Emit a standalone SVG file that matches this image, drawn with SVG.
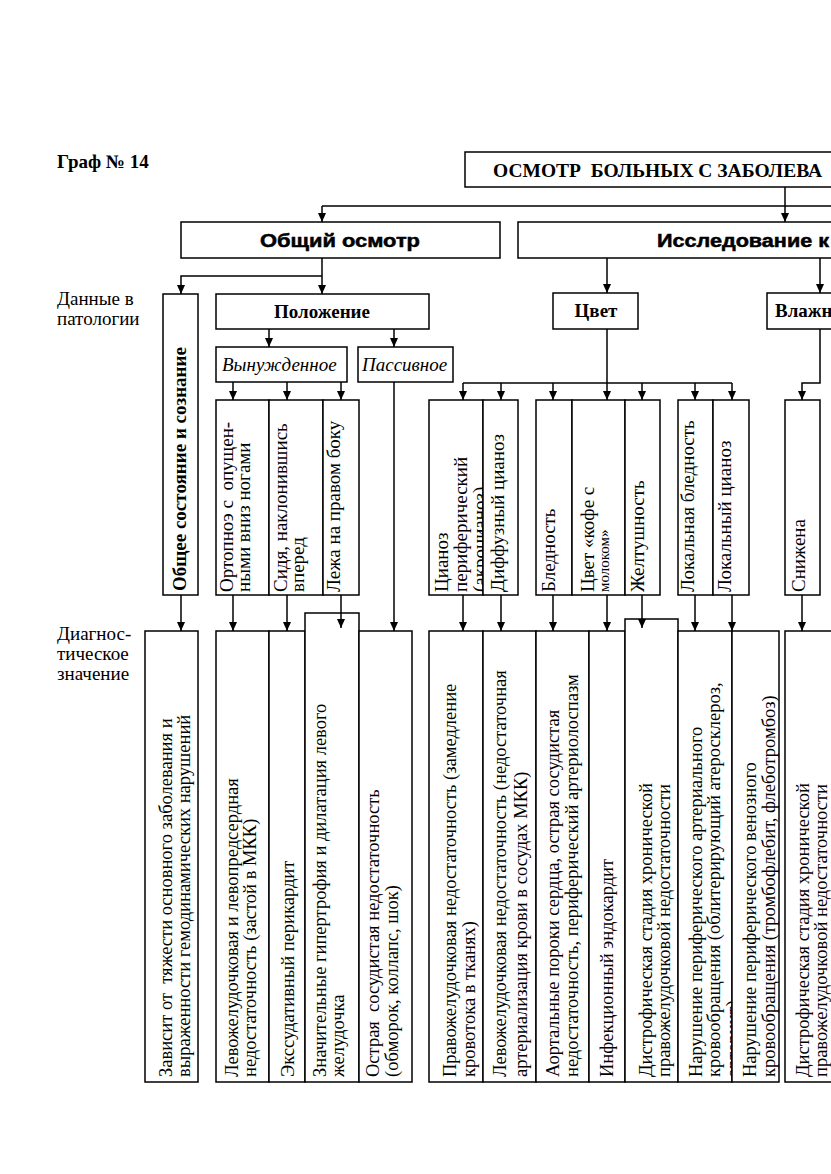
<svg xmlns="http://www.w3.org/2000/svg" width="831" height="1174" viewBox="0 0 831 1174" font-family="'Liberation Serif', 'Times New Roman', 'DejaVu Serif', serif">
<defs>
<marker id="ah" markerWidth="9" markerHeight="8" refX="9" refY="4" orient="auto" markerUnits="userSpaceOnUse"><path d="M0,0 L9,4 L0,8 z" fill="#000"/></marker>
</defs>
<style>
.b{fill:#fff;stroke:#000;stroke-width:1.5}
.c{fill:none;stroke:#000;stroke-width:1.5}
.a{fill:none;stroke:#000;stroke-width:1.5;marker-end:url(#ah)}
text{font-family:'Liberation Serif','Times New Roman','DejaVu Serif',serif;font-size:19px;fill:#000}
.r{font-size:18.5px}
.bd{font-weight:bold}
.it{font-style:italic}
.sans{font-family:'Liberation Sans',Arial,sans-serif;font-weight:bold;font-size:18px;stroke:#000;stroke-width:0.5}
</style>
<rect width="831" height="1174" fill="#fff"/>

<g id="labels">
<text class="bd" x="57" y="168">Граф № 14</text>
<text x="57" y="305">Данные в</text>
<text x="57" y="325">патологии</text>
<text x="57" y="640">Диагнос-</text>
<text x="57" y="660">тическое</text>
<text x="57" y="680">значение</text>
</g>

<g id="title">
<path class="b" d="M831,152 H465 V187 H831"/>
<text class="bd" x="493" y="177" xml:space="preserve" textLength="329" lengthAdjust="spacingAndGlyphs">ОСМОТР  БОЛЬНЫХ С ЗАБОЛЕВА</text>
</g>
<g id="obshchiy">
<rect class="b" x="181" y="222" width="319" height="36"/>
<text class="sans" x="340" y="247" text-anchor="middle" textLength="160" lengthAdjust="spacingAndGlyphs">Общий осмотр</text>
</g>
<g id="issled">
<path class="b" d="M831,222 H518 V258 H831"/>
<text class="sans" x="657" y="247" textLength="172" lengthAdjust="spacingAndGlyphs">Исследование к</text>
</g>

<g id="obshchee-sost">
<rect class="b" x="163" y="294" width="35" height="301"/>
<text class="bd" transform="translate(186,591) rotate(-90)">Общее состояние и сознание</text>
</g>
<g id="polozhenie">
<rect class="b" x="216" y="294" width="213" height="35"/>
<text class="bd" x="322" y="318" text-anchor="middle">Положение</text>
</g>
<g id="vynuzhd">
<rect class="b" x="216" y="347" width="131" height="35"/>
<text class="it" x="222" y="371">Вынужденное</text>
</g>
<g id="passiv">
<rect class="b" x="358" y="347" width="95" height="35"/>
<text class="it" x="362" y="371">Пассивное</text>
</g>
<g id="ortopnoe">
<rect class="b" x="216" y="400" width="53" height="195"/>
<text transform="translate(233,592) rotate(-90)" xml:space="preserve"><tspan x="0" y="0">Ортопноэ с  опущен-</tspan><tspan x="0" y="17">ными вниз ногами</tspan></text>
</g>
<g id="sidya">
<rect class="b" x="269" y="400" width="54" height="195"/>
<text transform="translate(287,592) rotate(-90)"><tspan x="0" y="0">Сидя, наклонившись</tspan><tspan x="0" y="17">вперед</tspan></text>
</g>
<g id="lezha">
<rect class="b" x="323" y="400" width="36" height="195"/>
<text transform="translate(340,592) rotate(-90)">Лежа на правом боку</text>
</g>

<g id="tsvet">
<rect class="b" x="553" y="293" width="85" height="36"/>
<text class="bd" x="596" y="317" text-anchor="middle">Цвет</text>
</g>
<g id="vlazhn">
<path class="b" d="M831,293 H767 V329 H831"/>
<text class="bd" x="775" y="317">Влажн</text>
</g>

<g id="tsianoz-per">
<rect class="b" x="429" y="400" width="54" height="195"/>
<text transform="translate(448,592) rotate(-90)"><tspan x="0" y="0">Цианоз</tspan><tspan x="0" y="19">периферический</tspan><tspan x="0" y="38">(акроцианоз)</tspan></text>
</g>
<g id="tsianoz-diff">
<rect class="b" x="483" y="400" width="35" height="195"/>
<text transform="translate(504,592) rotate(-90)">Диффузный цианоз</text>
</g>
<g id="blednost">
<rect class="b" x="536" y="400" width="36" height="195"/>
<text transform="translate(555,592) rotate(-90)">Бледность</text>
</g>
<g id="kofe">
<rect class="b" x="572" y="400" width="53" height="195"/>
<text transform="translate(594,592) rotate(-90)"><tspan x="0" y="0">Цвет «кофе с</tspan><tspan x="0" y="15" font-size="15">молоком»</tspan></text>
</g>
<g id="zheltushn">
<rect class="b" x="625" y="400" width="35" height="195"/>
<text transform="translate(644,592) rotate(-90)">Желтушность</text>
</g>
<g id="lok-bled">
<rect class="b" x="678" y="400" width="35" height="195"/>
<text transform="translate(694,592) rotate(-90)">Локальная бледность</text>
</g>
<g id="lok-tsian">
<rect class="b" x="713" y="400" width="36" height="195"/>
<text transform="translate(731,592) rotate(-90)">Локальный цианоз</text>
</g>
<g id="snizhena">
<rect class="b" x="785" y="400" width="35" height="195"/>
<text transform="translate(805,592) rotate(-90)">Снижена</text>
</g>

<g id="d-zavisit">
<rect class="b" x="145" y="631" width="53" height="451"/>
<text class="r" transform="translate(172,1077) rotate(-90)" xml:space="preserve"><tspan x="0" y="0">Зависит от  тяжести основного заболевания и</tspan><tspan x="0" y="18">выраженности гемодинамических нарушений</tspan></text>
</g>
<g id="d-levozhel">
<rect class="b" x="216" y="631" width="53" height="451"/>
<text class="r" transform="translate(238,1077) rotate(-90)"><tspan x="0" y="0">Левожелудочковая и левопредсердная</tspan><tspan x="0" y="18">недостаточность (застой в МКК)</tspan></text>
</g>
<g id="d-ekssud">
<rect class="b" x="269" y="631" width="36" height="451"/>
<text class="r" transform="translate(294,1077) rotate(-90)">Экссудативный перикардит</text>
</g>
<g id="d-gipertr">
<rect class="b" x="305" y="613" width="54" height="469"/>
<text class="r" transform="translate(326,1077) rotate(-90)"><tspan x="0" y="0">Значительные гипертрофия и дилатация левого</tspan><tspan x="0" y="18">желудочка</tspan></text>
</g>
<g id="d-ostraya">
<rect class="b" x="359" y="631" width="53" height="451"/>
<text class="r" transform="translate(379,1077) rotate(-90)" xml:space="preserve"><tspan x="0" y="0">Острая  сосудистая недостаточность</tspan><tspan x="0" y="19">(обморок, коллапс, шок)</tspan></text>
</g>

<g id="d-pravozhel">
<rect class="b" x="429" y="631" width="54" height="451"/>
<text class="r" transform="translate(456,1077) rotate(-90)"><tspan x="0" y="0">Правожелудочковая недостаточность (замедление</tspan><tspan x="0" y="19">кровотока в тканях)</tspan></text>
</g>
<g id="d-levozhel2">
<rect class="b" x="483" y="631" width="53" height="451"/>
<text class="r" transform="translate(506,1077) rotate(-90)"><tspan x="0" y="0">Левожелудочковая недостаточность (недостаточная</tspan><tspan x="0" y="21">артериализация крови в сосудах МКК)</tspan></text>
</g>
<g id="d-aort">
<rect class="b" x="536" y="631" width="53" height="451"/>
<text class="r" transform="translate(559,1077) rotate(-90)"><tspan x="0" y="0">Аортальные пороки сердца, острая сосудистая</tspan><tspan x="0" y="19">недостаточность, периферический артериолоспазм</tspan></text>
</g>
<g id="d-endokard">
<rect class="b" x="589" y="631" width="36" height="451"/>
<text class="r" transform="translate(613,1077) rotate(-90)">Инфекционный эндокардит</text>
</g>
<g id="d-distrof">
<rect class="b" x="625" y="619" width="53" height="463"/>
<text class="r" transform="translate(652,1077) rotate(-90)"><tspan x="0" y="0">Дистрофическая стадия хронической</tspan><tspan x="0" y="18">правожелудочковой недостаточности</tspan></text>
</g>
<g id="d-arter">
<rect class="b" x="678" y="631" width="54" height="451"/>
<text class="r" transform="translate(702,1077) rotate(-90)"><tspan x="0" y="0">Нарушение периферического артериального</tspan><tspan x="0" y="18">кровообращения (облитерирующий атеросклероз,</tspan><tspan x="0" y="37">артериит)</tspan></text>
</g>
<g id="d-ven">
<rect class="b" x="732" y="631" width="47" height="451"/>
<text class="r" transform="translate(756,1077) rotate(-90)"><tspan x="0" y="0">Нарушение периферического венозного</tspan><tspan x="0" y="19">кровообращения (тромбофлебит, флеботромбоз)</tspan></text>
</g>
<g id="d-distrof2">
<path class="b" d="M831,631 H785 V1082 H831"/>
<text class="r" transform="translate(809,1077) rotate(-90)"><tspan x="0" y="0">Дистрофическая стадия хронической</tspan><tspan x="0" y="18">правожелудочковой недостаточности</tspan></text>
</g>

<g id="connectors">
<path class="c" d="M322,206 H831"/>
<path class="a" d="M322,206 V222"/>
<path class="a" d="M785,187 V222"/>
<path class="a" d="M322,258 V294"/>
<path class="a" d="M322,276 H181 V294"/>
<path class="a" d="M269,329 V347"/>
<path class="a" d="M394,329 V347"/>
<path class="a" d="M233,382 V400"/>
<path class="a" d="M287,382 V400"/>
<path class="a" d="M341,382 V400"/>
<path class="a" d="M394,382 V631"/>
<path class="a" d="M607,258 V293"/>
<path class="a" d="M820,258 V293"/>
<path class="c" d="M607,329 V383"/>
<path class="c" d="M463,383 H732"/>
<path class="a" d="M463,383 V400"/>
<path class="a" d="M501,383 V400"/>
<path class="a" d="M553,383 V400"/>
<path class="a" d="M607,383 V400"/>
<path class="a" d="M642,383 V400"/>
<path class="a" d="M695,383 V400"/>
<path class="a" d="M732,383 V400"/>
<path class="a" d="M820,329 V383 H802 V400"/>
<path class="a" d="M181,595 V631"/>
<path class="a" d="M233,595 V631"/>
<path class="a" d="M287,595 V631"/>
<path class="a" d="M341,595 V628"/>
<path class="a" d="M463,595 V631"/>
<path class="a" d="M501,595 V631"/>
<path class="a" d="M553,595 V631"/>
<path class="a" d="M607,595 V631"/>
<path class="a" d="M642,595 V628"/>
<path class="a" d="M695,595 V631"/>
<path class="a" d="M732,595 V631"/>
<path class="a" d="M802,595 V631"/>
</g>
</svg>
